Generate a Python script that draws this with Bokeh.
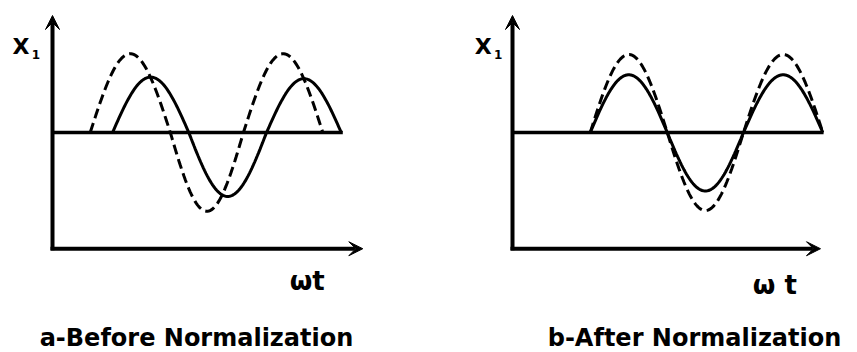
import numpy as np
from bokeh.plotting import figure
from bokeh.layouts import row
from bokeh.models import Arrow, VeeHead, Label, Range1d
from bokeh.embed import file_html
from bokeh.resources import INLINE

# --- signal description: zero crossings (in units of pi of wt) and lobe peaks ---
# (a) before normalization: dashed signal leads and is larger
a_solid_crossings = [0.78, 1.77, 2.78, 3.75]
a_solid_peaks = [0.71, -0.82, 0.69]
a_dashed_crossings = [0.49, 1.53, 2.48, 3.51]
a_dashed_peaks = [1.01, -1.01, 1.01]

# (b) after normalization: both signals in phase
b_solid_crossings = [1.01, 2.01, 3.00, 4.03]
b_solid_peaks = [0.74, -0.75, 0.74]
b_dashed_crossings = [1.01, 2.01, 3.00, 4.03]
b_dashed_peaks = [1.00, -1.00, 1.00]

# axis extents
a_axis_x_end = 4.03
a_baseline_end = 3.77
b_axis_x_end = 4.00
b_baseline_end = 4.04
axis_y_bottom = -1.49
axis_y_top = 1.50

y_label = "X"
y_label_sub = "1"
a_x_label = "ωt"
b_x_label = "ω t"
a_caption = "a-Before Normalization"
b_caption = "b-After Normalization"

FONT = "DejaVu Sans"
H = 352


def lobes(crossings, peaks, n=60):
    xs, ys = [], []
    for z0, z1, pk in zip(crossings[:-1], crossings[1:], peaks):
        x = np.linspace(z0, z1, n)
        xs.append(x)
        ys.append(pk * np.sin(np.pi * (x - z0) / (z1 - z0)))
    return np.concatenate(xs), np.concatenate(ys)


def text(p, x, y, s, size, align="left"):
    p.add_layout(Label(x=x, y=y, text=s, text_font=FONT, text_font_size=size,
                       text_font_style="bold", text_color="black",
                       text_baseline="alphabetic", text_align=align))


def panel(width, x_start, x_end, solid, dashed, axis_x_end, baseline_end,
          xlab, xlab_pos, caption, cap_pos, ylab_pos):
    p = figure(width=width, height=H, output_backend="svg", toolbar_location=None,
               x_axis_location=None, y_axis_location=None,
               x_range=Range1d(x_start, x_end), y_range=Range1d(-220 / 78, 132 / 78),
               min_border=0, background_fill_color="white", border_fill_color="white")
    p.grid.visible = False
    p.outline_line_color = None

    # reference (zero) line
    p.line([0, baseline_end], [0, 0], line_color="black", line_width=3.5)

    xs, ys = lobes(*dashed)
    p.line(xs, ys, line_color="black", line_width=3, line_dash="10 5")
    xs, ys = lobes(*solid)
    p.line(xs, ys, line_color="black", line_width=3)

    head = dict(size=14, fill_color="black", line_color="black", line_width=1)
    p.add_layout(Arrow(end=VeeHead(**head), x_start=0, y_start=axis_y_bottom - 0.02,
                       x_end=0, y_end=axis_y_top, line_width=4, line_color="black"))
    p.add_layout(Arrow(end=VeeHead(**head), x_start=-0.026, y_start=axis_y_bottom,
                       x_end=axis_x_end, y_end=axis_y_bottom, line_width=4,
                       line_color="black"))

    text(p, ylab_pos[0], ylab_pos[1], y_label, "22px")
    text(p, ylab_pos[0] + 0.25, ylab_pos[1] - 0.10, y_label_sub, "12px")
    text(p, xlab_pos[0], xlab_pos[1], xlab, "26px")
    text(p, cap_pos[0], cap_pos[1], caption, "24px", align="center")
    return p


p_a = panel(430, -52 / 77, (430 - 52) / 77,
            (a_solid_crossings, a_solid_peaks), (a_dashed_crossings, a_dashed_peaks),
            a_axis_x_end, a_baseline_end,
            a_x_label, (3.08, -1.90), a_caption, (1.87, -2.63), (-0.52, 1.10))
p_b = panel(427, (430 - 512) / 77, (857 - 512) / 77,
            (b_solid_crossings, b_solid_peaks), (b_dashed_crossings, b_dashed_peaks),
            b_axis_x_end, b_baseline_end,
            b_x_label, (3.12, -1.95), b_caption, (2.364, -2.63), (-0.49, 1.10))

layout = row(p_a, p_b, spacing=0)
open("out.html", "w").write(file_html(layout, INLINE))
